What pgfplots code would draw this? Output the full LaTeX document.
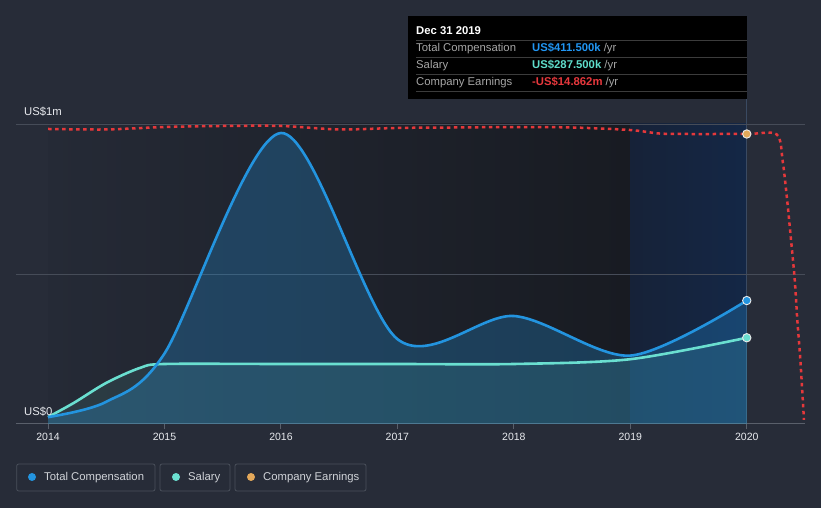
\documentclass[border=0pt]{standalone}
\usepackage{fontspec}
\setmainfont{Liberation Sans}
\usepackage{pgfplots}
\pgfplotsset{compat=1.18}
\definecolor{bg}{HTML}{272C38}
\definecolor{regA}{HTML}{252A36}
\definecolor{regB}{HTML}{181B22}
\definecolor{hlA}{HTML}{162238}
\definecolor{hlB}{HTML}{142746}
\definecolor{gridc}{HTML}{464C58}
\definecolor{axisc}{HTML}{5A606B}
\definecolor{vlinec}{HTML}{3A4A62}
\definecolor{cblue}{HTML}{2394DF}
\definecolor{cteal}{HTML}{6ADFD0}
\definecolor{cred}{HTML}{E5383B}
\definecolor{corange}{HTML}{E3A85A}
\definecolor{labc}{HTML}{E8EAEE}
\definecolor{legc}{HTML}{4A505B}
\definecolor{legtext}{HTML}{D0D3D8}
\definecolor{tipgray}{HTML}{A6A6A6}
\definecolor{tipsep}{HTML}{3C3C3C}
\definecolor{valblue}{HTML}{2196F3}
\definecolor{valteal}{HTML}{5FDDCB}
\definecolor{valred}{HTML}{E8383D}
\newcommand{\fs}{\fontsize{11.3}{13}\selectfont}
\begin{document}
\begin{tikzpicture}[x=1pt,y=1pt]
\fill[bg] (0,0) rectangle (821,508);
\shade[left color=regA, right color=regB] (48,84) rectangle (630.3,384);
\shade[left color=hlA, right color=hlB] (630.3,84) rectangle (746.8,384);
\draw[vlinec, line width=0.8pt] (746.8,409) -- (746.8,84);
\begin{axis}[
  at={(16pt,84pt)}, anchor=south west,
  scale only axis, width=789pt, height=300pt,
  xmin=2013.725, xmax=2020.5, ymin=0, ymax=1,
  separate axis lines,
  axis x line*=bottom,
  x axis line style={-, draw=axisc, line width=1pt},
  y axis line style={draw=none},
  xtick={2014,2015,2016,2017,2018,2019,2020},
  xticklabels={2014,2015,2016,2017,2018,2019,2020},
  xticklabel style={font=\fontsize{10.5}{12}\selectfont, text=labc, inner sep=0pt, anchor=north, yshift=-4pt},
  xtick style={draw=axisc, line width=1pt},
  major tick length=5pt, tick align=outside,
  ytick={0.5,1}, yticklabels={}, ytick style={draw=none},
  ymajorgrids, grid style={draw=gridc, line width=0.8pt},
]
\addplot[draw=none, fill=cblue, fill opacity=0.28, smooth] coordinates {
 (2014,0.023) (2014.5,0.074) (2015,0.235) (2016,0.97) (2017,0.283) (2018,0.36) (2019,0.228) (2020,0.4115)} \closedcycle;
\addplot[draw=none, fill=cteal, fill opacity=0.10, smooth] coordinates {
 (2014,0.023) (2014.22,0.07) (2014.5,0.137) (2014.79,0.187) (2015,0.2) (2016,0.2) (2017,0.2) (2018,0.2) (2019,0.216) (2020,0.2875)} \closedcycle;
\addplot[cteal, line width=2.6pt, smooth] coordinates {
 (2014,0.023) (2014.22,0.07) (2014.5,0.137) (2014.79,0.187) (2015,0.2) (2016,0.2) (2017,0.2) (2018,0.2) (2019,0.216) (2020,0.2875)};
\addplot[cblue, line width=2.6pt, smooth] coordinates {
 (2014,0.023) (2014.5,0.074) (2015,0.235) (2016,0.97) (2017,0.283) (2018,0.36) (2019,0.228) (2020,0.4115)};
\addplot[only marks, mark=*, mark size=4.2pt, mark options={fill=cteal, draw=white!85!gray, line width=0.9pt}] coordinates {(2020,0.2875)};
\addplot[only marks, mark=*, mark size=4.2pt, mark options={fill=cblue, draw=white!85!gray, line width=0.9pt}] coordinates {(2020,0.4115)};
\end{axis}
\begin{axis}[
  at={(16pt,84pt)}, anchor=south west,
  scale only axis, width=789pt, height=300pt,
  xmin=2013.725, xmax=2020.5, ymin=-39.86, ymax=-14.0,
  hide axis,
]
\addplot[cred, line width=2.5pt, dash pattern=on 3.5pt off 3.5pt, smooth] coordinates {
 (2014,-14.43) (2014.5,-14.47) (2015,-14.26) (2015.5,-14.17) (2016,-14.17) (2016.5,-14.47)
 (2017,-14.34) (2017.5,-14.3) (2018,-14.26) (2018.5,-14.3) (2019,-14.52) (2019.25,-14.82)
 (2019.5,-14.862) (2020,-14.862) (2020.257,-14.9) (2020.309,-17.25) (2020.348,-20.7)
 (2020.38,-24.0) (2020.412,-27.45) (2020.434,-30.9) (2020.46,-34.34) (2020.491,-39.5)};
\addplot[only marks, mark=*, mark size=4.2pt, mark options={fill=corange, draw=white!85!gray, line width=0.9pt}] coordinates {(2020,-14.862)};
\end{axis}
% y labels
\node[anchor=base west, inner sep=0pt, text=labc, font=\fs] at (24,392.3) {US\$1m};
\node[anchor=base west, inner sep=0pt, text=labc, font=\fs] at (24,92) {US\$0};
% tooltip
\fill[black] (408,409) rectangle (747,492);
\node[anchor=base west, inner sep=0pt, text=white, font=\fs\bfseries] at (416,473) {Dec 31 2019};
\foreach \yy in {467.7,450.7,433.7,417} {\draw[tipsep, line width=0.8pt] (416,\yy) -- (747,\yy);}
\node[anchor=base west, inner sep=0pt, text=tipgray, font=\fs] at (416,456.3) {Total Compensation};
\node[anchor=base west, inner sep=0pt, text=tipgray, font=\fs] at (416,439.3) {Salary};
\node[anchor=base west, inner sep=0pt, text=tipgray, font=\fs] at (416,422.3) {Company Earnings};
\node[anchor=base west, inner sep=0pt, font=\fs] at (532,456.3) {\textcolor{valblue}{\bfseries US\$411.500k} \textcolor{tipgray}{/yr}};
\node[anchor=base west, inner sep=0pt, font=\fs] at (532,439.3) {\textcolor{valteal}{\bfseries US\$287.500k} \textcolor{tipgray}{/yr}};
\node[anchor=base west, inner sep=0pt, font=\fs] at (532,422.3) {\textcolor{valred}{\bfseries -US\$14.862m} \textcolor{tipgray}{/yr}};
% legend
\draw[legc, line width=0.8pt, rounded corners=2pt] (16.7,17) rectangle (155,44);
\draw[legc, line width=0.8pt, rounded corners=2pt] (160,17) rectangle (230,44);
\draw[legc, line width=0.8pt, rounded corners=2pt] (235,17) rectangle (366,44);
\fill[cblue] (32,31) circle (4pt);
\fill[cteal] (176,31) circle (4pt);
\fill[corange] (251,31) circle (4pt);
\node[anchor=base west, inner sep=0pt, text=legtext, font=\fs] at (44,27) {Total Compensation};
\node[anchor=base west, inner sep=0pt, text=legtext, font=\fs] at (188,27) {Salary};
\node[anchor=base west, inner sep=0pt, text=legtext, font=\fs] at (263,27) {Company Earnings};
\end{tikzpicture}
\end{document}
